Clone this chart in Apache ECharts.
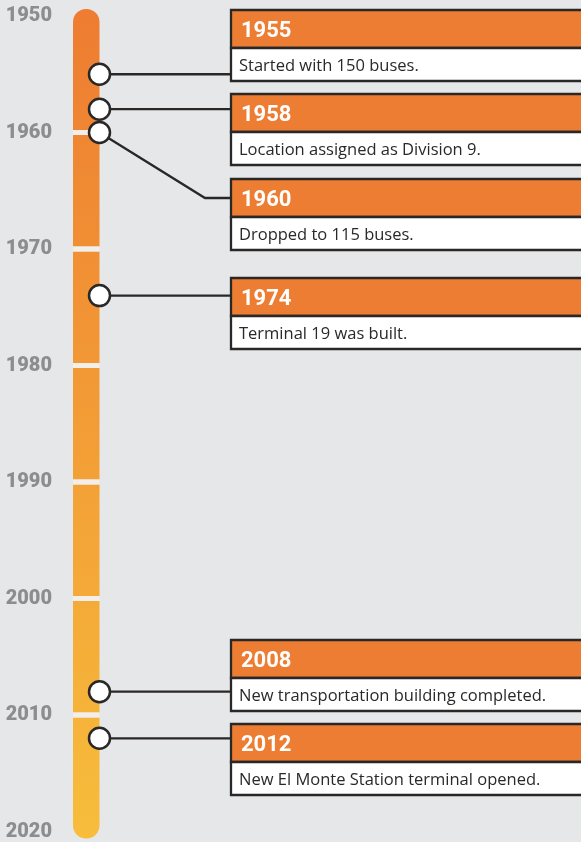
<!DOCTYPE html>
<html>
<head>
<meta charset="utf-8">
<script src="https://cdn.jsdelivr.net/npm/echarts@6/dist/echarts.min.js"></script>
<style>
  html, body { margin: 0; padding: 0; background: #e6e7e9; }
  #timeline { width: 581px; height: 842px; }
</style>
</head>
<body>
<div id="timeline"></div>
<script>
// data
const decades = [1950, 1960, 1970, 1980, 1990, 2000, 2010]
const eventYears = [1955, 1958, 1960, 1974, 2008, 2012]
const eventTexts = [
  'Started with 150 buses.',
  'Location assigned as Division 9.',
  'Dropped to 115 buses.',
  'Terminal 19 was built.',
  'New transportation building completed.',
  'New El Monte Station terminal opened.'
]

// layout (pixels)
const boxTops = [10, 94, 179, 278, 640, 724]
const boxLeft = 231
const headH = 38
const bodyH = 33
const barW = 26.5

const orange = '#ed7d32'
const ink = '#2a2727'

function barGradient (api) {
  const y0 = api.coord([0, 1950])[1] - 7
  const y1 = api.coord([0, 2020])[1] + 7
  return {
    type: 'linear', x: 0, y: y0, x2: 0, y2: y1, global: true,
    colorStops: [{ offset: 0, color: '#ee7c31' }, { offset: 1, color: '#f7bd3b' }]
  }
}

function renderBar (params, api) {
  const d = api.value(1)
  const y0 = api.coord([0, d])[1]
  const y1 = api.coord([0, d + 10])[1]
  const x = params.coordSys.x
  const first = params.dataIndex === 0
  const last = params.dataIndex === decades.length - 1
  const top = first ? y0 - 7 : y0 + 2.5
  const bot = last ? y1 + 7 : y1 - 2.5
  const children = [{
    type: 'rect',
    shape: { x: x, y: top, width: barW, height: bot - top, r: first ? [13, 13, 0, 0] : (last ? [0, 0, 13, 13] : 0) },
    style: { fill: barGradient(api) }
  }]
  if (!first) {
    children.push({
      type: 'rect',
      shape: { x: x, y: y0 - 2.5, width: barW, height: 5 },
      style: { fill: '#f3eee9' }
    })
  }
  return { type: 'group', children: children }
}

function renderEvent (params, api) {
  const i = params.dataIndex
  const cx = params.coordSys.x + barW
  const cy = api.coord([0, api.value(1)])[1]
  const top = boxTops[i]
  const inside = cy >= top && cy <= top + headH + bodyH
  const attach = inside ? cy : top + headH / 2
  const pts = inside ? [[cx, cy], [boxLeft, cy]] : [[cx, cy], [boxLeft - 26, attach], [boxLeft, attach]]
  return {
    type: 'group',
    children: [
      { type: 'polyline', shape: { points: pts }, style: { stroke: ink, lineWidth: 2.3, fill: null } },
      { type: 'circle', shape: { cx: cx, cy: cy, r: 10.5 }, style: { fill: '#fff', stroke: ink, lineWidth: 2.5 } },
      { type: 'rect', shape: { x: boxLeft, y: top, width: 400, height: headH }, style: { fill: orange, stroke: ink, lineWidth: 2.3 } },
      { type: 'rect', shape: { x: boxLeft, y: top + headH, width: 400, height: bodyH }, style: { fill: '#fff', stroke: ink, lineWidth: 2.3 } },
      {
        type: 'text',
        style: {
          x: boxLeft + 10, y: top + headH / 2 + 2.5, text: String(eventYears[i]),
          fill: '#fff', font: 'bold 22px Roboto', verticalAlign: 'middle'
        }
      },
      {
        type: 'text',
        style: {
          x: boxLeft + 8, y: top + headH + bodyH / 2 + 2, text: eventTexts[i],
          fill: '#2b2828', font: '16.5px "Open Sans"', verticalAlign: 'middle'
        }
      }
    ]
  }
}

const chart = echarts.init(document.getElementById('timeline'))
chart.setOption({
  backgroundColor: '#e6e7e9',
  animation: false,
  grid: { left: 73, right: 0, top: 16, bottom: 10.5 },
  xAxis: { type: 'value', min: 0, max: 1, show: false },
  yAxis: {
    type: 'value',
    min: 1950,
    max: 2020,
    interval: 10,
    inverse: true,
    axisLine: { show: false },
    axisTick: { show: false },
    splitLine: { show: false },
    axisLabel: {
      margin: 21,
      color: '#8c8d8f',
      fontFamily: 'Roboto',
      fontWeight: 900,
      fontSize: 20,
      padding: [3, 0, 0, 0],
      formatter: v => String(v)
    }
  },
  series: [
    {
      type: 'custom',
      clip: false,
      renderItem: renderBar,
      data: decades.map(d => [0, d]),
      encode: { x: 0, y: 1 },
      z: 1
    },
    {
      type: 'custom',
      clip: false,
      renderItem: renderEvent,
      data: eventYears.map(y => [0, y]),
      encode: { x: 0, y: 1 },
      z: 2
    }
  ]
})
</script>
</body>
</html>
